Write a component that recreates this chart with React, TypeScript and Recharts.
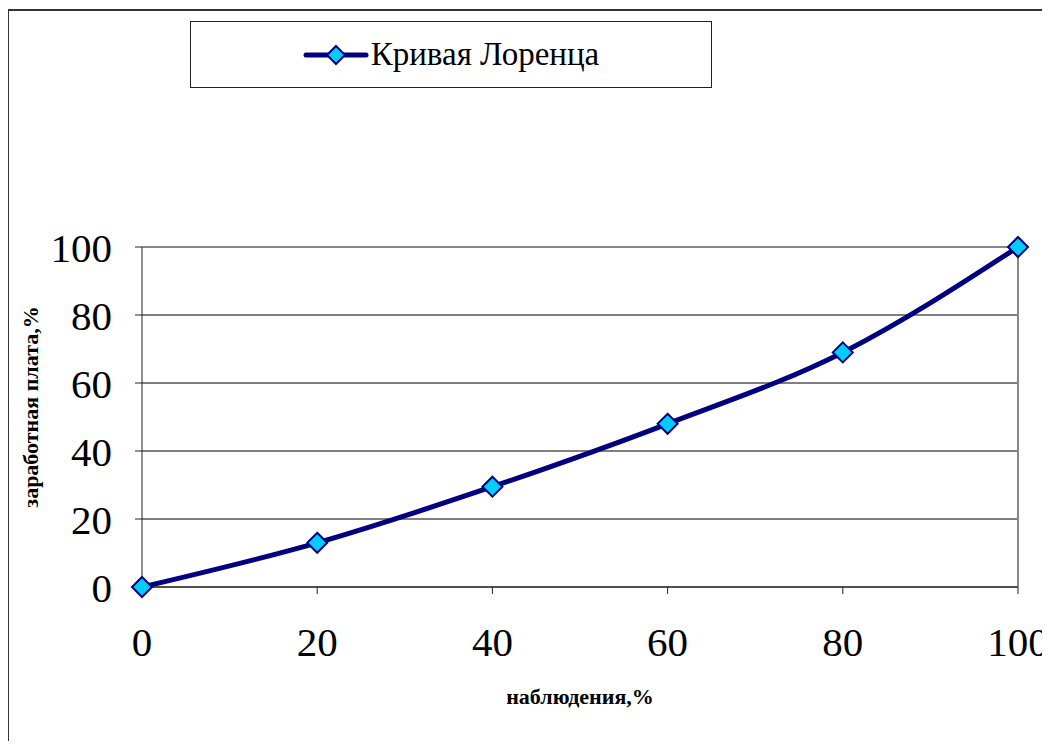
import { LineChart, Line, XAxis, YAxis, CartesianGrid, ReferenceLine } from "recharts";

// данные кривой Лоренца
const share = [0, 20, 40, 60, 80, 100];
const wages = [0, 13, 29.5, 48, 69, 100];
const xTicks = [0, 20, 40, 60, 80, 100];
const yTicks = [0, 20, 40, 60, 80, 100];
const seriesName = "Кривая Лоренца";

const data = share.map((x, i) => ({ x, y: wages[i] }));

const NAVY = "#000080";
const CYAN = "#00ccff";
const FONT = "'Liberation Serif', serif";

const Diamond = (props: any) => {
  const { cx, cy } = props;
  if (cx == null || cy == null) return null;
  const r = 10;
  return (
    <polygon
      points={`${cx},${cy - r} ${cx + r},${cy} ${cx},${cy + r} ${cx - r},${cy}`}
      fill={CYAN}
      stroke={NAVY}
      strokeWidth={2}
    />
  );
};

const LegendBox = () => (
  <div
    style={{
      position: "absolute",
      left: 190,
      top: 21,
      width: 522,
      height: 67,
      border: "1px solid #222",
      background: "#fff",
      display: "flex",
      alignItems: "center",
      justifyContent: "center",
      boxSizing: "border-box",
    }}
  >
    <svg width={66} height={24} style={{ marginRight: 2 }}>
      <line x1={3} y1={12} x2={63} y2={12} stroke={NAVY} strokeWidth={5} strokeLinecap="round" />
      <polygon points="33,3 42,12 33,21 24,12" fill={CYAN} stroke={NAVY} strokeWidth={2} />
    </svg>
    <span style={{ fontFamily: FONT, fontSize: 33, color: "#000" }}>{seriesName}</span>
  </div>
);

export default function App() {
  return (
    <div
      style={{
        position: "relative",
        width: 1050,
        height: 749,
        margin: -8,
        overflow: "hidden",
        background: "#fff",
        fontFamily: FONT,
      }}
    >
      {/* рамка диаграммы */}
      <div
        style={{
          position: "absolute",
          left: 7,
          top: 9,
          width: 1200,
          height: 900,
          border: "2px solid #333",
        }}
      />
      <div style={{ position: "absolute", left: 0, top: 0 }}>
        <LineChart
          width={1050}
          height={749}
          data={data}
          margin={{ top: 247, right: 32, bottom: 0, left: 82 }}
          style={{ fontFamily: FONT }}
        >
          <CartesianGrid vertical={false} stroke="#000" strokeWidth={1} />
          <XAxis
            dataKey="x"
            type="number"
            domain={[0, 100]}
            ticks={xTicks}
            height={162}
            tickSize={7}
            tickMargin={33}
            stroke="#222"
            tick={{ fill: "#000", fontSize: 41, fontFamily: FONT }}
            label={{
              value: "наблюдения,%",
              position: "insideBottom",
              offset: 45,
              style: { fontFamily: FONT, fontSize: 22, fontWeight: "bold", fill: "#000" },
            }}
          />
          <YAxis
            type="number"
            domain={[0, 100]}
            ticks={yTicks}
            width={60}
            tickSize={7}
            tickMargin={23}
            stroke="#222"
            tick={{ fill: "#000", fontSize: 41, fontFamily: FONT }}
            label={{
              value: "заработная плата,%",
              angle: -90,
              position: "left",
              offset: 0,
              dx: -52,
              dy: -10,
              style: { fontFamily: FONT, fontSize: 22, fontWeight: "bold", fill: "#000", textAnchor: "middle" },
            }}
          />
          <ReferenceLine y={100} stroke="#888" strokeWidth={2} />
          <ReferenceLine x={100} stroke="#888" strokeWidth={2} />
          <Line
            type="monotone"
            dataKey="y"
            name={seriesName}
            stroke={NAVY}
            strokeWidth={5}
            dot={<Diamond />}
            activeDot={false}
            isAnimationActive={false}
          />
        </LineChart>
      </div>
      <LegendBox />
    </div>
  );
}
